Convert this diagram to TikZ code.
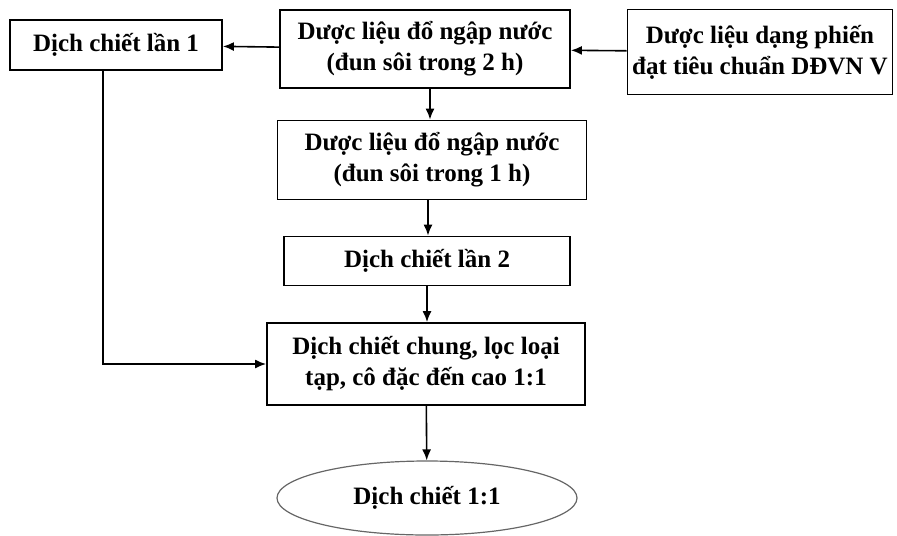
\documentclass[tikz,border=0pt]{standalone}
\usepackage{fontspec}
\setmainfont{Liberation Serif}
\usepackage{tikz}
\usetikzlibrary{arrows,positioning,calc,arrows.meta,shapes.geometric}
\tikzset{>=Latex}
\tikzset{
  stepbox/.style={draw,line width=0.9pt,align=center,inner sep=0pt,font=\bfseries\fontsize{12.5}{15.5}\selectfont},
  endell/.style={draw,ellipse,line width=0.6pt,gray!80!black,text=black,inner sep=0pt,font=\bfseries\fontsize{12.5}{15.5}\selectfont},
  flow/.style={->,line width=0.8pt,>={Latex[length=5.5pt,width=4.5pt]}}
}
\begin{document}
\begin{tikzpicture}[x=0.5pt,y=-0.5pt]
    \useasboundingbox (0,0) rectangle (897,535);
    \node[stepbox,minimum width=106pt,minimum height=25pt] at (116,45) (dich1) {Dịch chiết lần 1};
    \node[stepbox,minimum width=145pt,minimum height=39pt] at (425,49) (ngap2) {Dược liệu đổ ngập nước\\(đun sôi trong 2 h)};
    \node[stepbox,minimum width=132.5pt,minimum height=42.5pt] at (760,52) (phien) {Dược liệu dạng phiến\\đạt tiêu chuẩn DĐVN V};
    \node[stepbox,minimum width=154.5pt,minimum height=39.5pt] at (432,160) (ngap1) {Dược liệu đổ ngập nước\\(đun sôi trong 1 h)};
    \node[stepbox,minimum width=143pt,minimum height=24.5pt] at (427,261) (dich2) {Dịch chiết lần 2};
    \node[stepbox,minimum width=159pt,minimum height=41pt] at (426,364) (chung) {Dịch chiết chung, lọc loại\\tạp, cô đặc đến cao 1:1};
    \node[endell,minimum width=150pt,minimum height=37pt] at (427,498) (cao) {Dịch chiết 1:1};
    \draw [flow] (phien) -- (ngap2);
    \draw [flow] (ngap2) -- (dich1);
    \draw [flow] (ngap2.south -| 430,0) -- (ngap1.north -| 430,0);
    \draw [flow] (ngap1.south -| 428,0) -- (dich2.north -| 428,0);
    \draw [flow] (dich2) -- (chung.north -| dich2);
    \draw [flow] (chung) -- (cao);
    \draw [flow] (dich1.south -| 103,0) |- (chung.west);
\end{tikzpicture}
\end{document}
